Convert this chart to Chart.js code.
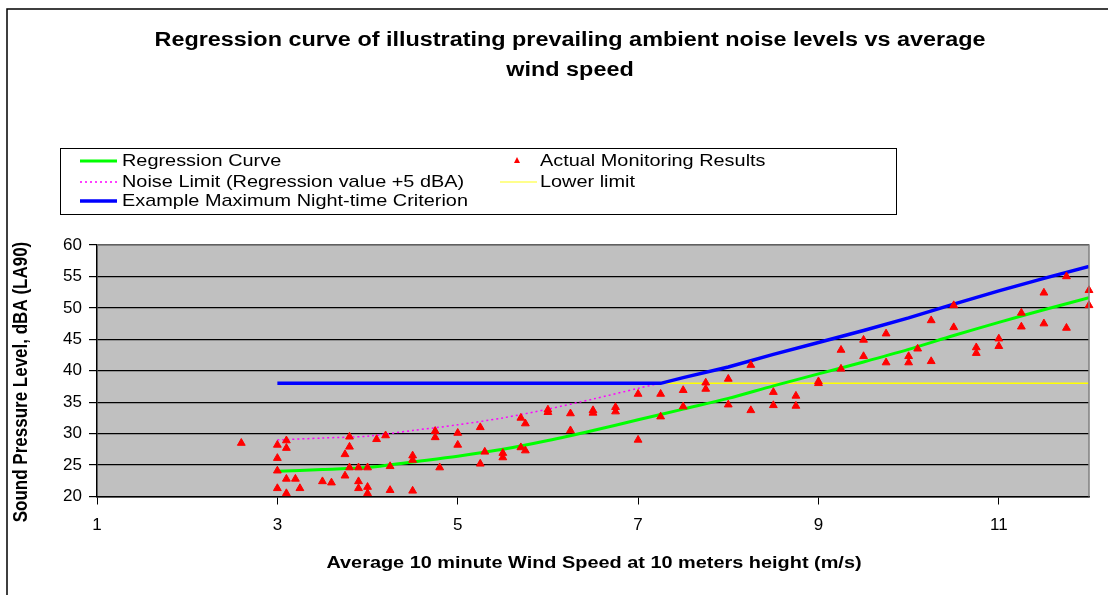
<!DOCTYPE html>
<html lang="en">
<head>
  <meta charset="UTF-8" />
  <title>Regression curve - ambient noise vs wind speed</title>
  <script src="https://cdn.jsdelivr.net/npm/chart.js"></script>
  <style>
    html, body { margin: 0; padding: 0; background: #fff; }
    #wrap { width: 1108px; height: 595px; }
  </style>
</head>
<body>
  <div id="wrap"><canvas id="noiseChart" width="1108" height="595"></canvas></div>

  <script>
    // Actual monitoring results (wind speed m/s, LA90 dBA)
    const windSpeed = [2.6, 3.0, 3.1, 3.1, 3.0, 3.0, 3.1, 3.2, 3.0, 3.25, 3.1, 3.5, 3.6, 3.75, 3.75, 3.8, 3.8, 3.8, 3.9, 3.9,
      3.9, 4.0, 4.0, 4.0, 4.1, 4.2, 4.25, 4.25, 4.5, 4.5, 4.5, 4.75, 4.75, 4.8, 5.0, 5.0, 5.25, 5.25, 5.3, 5.5,
      5.5, 5.7, 5.7, 5.75, 5.75, 6.0, 6.0, 6.25, 6.25, 6.5, 6.5, 6.75, 6.75, 7.0, 7.0, 7.25, 7.25, 7.5, 7.5, 7.75,
      7.75, 8.0, 8.0, 8.25, 8.25, 8.5, 8.5, 8.75, 8.75, 9.0, 9.0, 9.25, 9.25, 9.5, 9.5, 9.75, 9.75, 10.0, 10.0, 10.1,
      10.25, 10.25, 10.5, 10.5, 10.75, 10.75, 11.0, 11.0, 11.25, 11.25, 11.5, 11.5, 11.75, 11.75, 12.0, 12.0];
    const soundLevel = [28.5, 28.2, 28.9, 27.7, 26.1, 24.1, 22.8, 22.8, 21.3, 21.3, 20.5, 22.4, 22.2, 23.3, 26.7, 29.5, 27.9, 24.6, 24.6, 22.4,
      21.3, 24.6, 21.5, 20.5, 29.1, 29.7, 24.8, 21.0, 26.5, 25.8, 20.9, 30.4, 29.4, 24.6, 30.1, 28.2, 31.0, 25.2, 27.1, 26.9,
      26.2, 32.5, 27.8, 31.6, 27.3, 33.8, 33.4, 33.2, 30.5, 33.7, 33.3, 34.2, 33.5, 36.3, 29.0, 36.3, 32.7, 36.9, 34.3, 38.1,
      37.1, 38.7, 34.6, 40.9, 33.7, 36.6, 34.5, 36.0, 34.4, 38.3, 38.0, 43.3, 40.3, 44.9, 42.3, 45.9, 41.3, 42.3, 41.3, 43.5,
      48.0, 41.5, 50.4, 46.9, 43.7, 42.8, 45.1, 43.9, 49.2, 47.0, 52.4, 47.5, 55.0, 46.8, 52.8, 50.4];

    // Regression curve and noise limit
    const curveSpeed = [3, 3.5, 4, 4.5, 5, 5.5, 6, 6.5, 7, 7.5, 8, 8.5, 9, 9.5, 10, 10.5, 11, 11.5, 12];
    const regressionLevel = [24.0, 24.3, 24.6, 25.5, 26.4, 27.5, 28.9, 30.5, 32.2, 33.9, 35.6, 37.6, 39.5, 41.4, 43.4, 45.6, 47.7, 49.7, 51.6];
    const noiseLimitLevel = [29.0, 29.3, 29.6, 30.5, 31.4, 32.5, 33.9, 35.5, 37.2, 38.9, 40.6, 42.6, 44.5, 46.4, 48.4, 50.6, 52.7, 54.7, 56.6];

    // Example maximum night-time criterion
    const criterionSpeed = [3, 7.25, 7.5, 8, 8.5, 9, 9.5, 10, 10.5, 11, 11.5, 12];
    const criterionLevel = [38, 38, 38.9, 40.6, 42.6, 44.5, 46.4, 48.4, 50.6, 52.7, 54.7, 56.6];

    // Lower limit
    const lowerLimitSpeed = [7.25, 12];
    const lowerLimitLevel = [38, 38];

    const xTicks = [1, 3, 5, 7, 9, 11];
    const yTicks = [20, 25, 30, 35, 40, 45, 50, 55, 60];

    const FONT = "'Liberation Sans', Arial, sans-serif";
    const STRETCH = 1.17; // the original text is a bit wide

    function pts(xs, ys) {
      return xs.map((x, i) => ({ x: x, y: ys[i] }));
    }

    function wideText(ctx, text, x, y) {
      ctx.save();
      ctx.translate(x, y);
      ctx.scale(STRETCH, 1);
      ctx.fillText(text, 0, 0);
      ctx.restore();
    }

    // background, borders, titles, legend
    const decorations = {
      id: 'decorations',
      beforeDraw(chart) {
        const { ctx, chartArea: a } = chart;
        ctx.save();
        ctx.fillStyle = '#fff';
        ctx.fillRect(0, 0, chart.width, chart.height);
        ctx.fillStyle = '#c0c0c0';
        ctx.fillRect(a.left, a.top, a.right - a.left, a.bottom - a.top);
        ctx.restore();
      },
      afterDatasetsDraw(chart) {
        const { ctx, chartArea: a } = chart;
        ctx.save();
        ctx.strokeStyle = '#808080';
        ctx.lineWidth = 1.5;
        ctx.beginPath();
        ctx.moveTo(a.left, a.top);
        ctx.lineTo(a.right, a.top);
        ctx.lineTo(a.right, a.bottom);
        ctx.stroke();
        ctx.restore();
      },
      afterDraw(chart) {
        const ctx = chart.ctx;
        ctx.save();

        // outer frame
        ctx.strokeStyle = '#000';
        ctx.lineWidth = 1.5;
        ctx.beginPath();
        ctx.moveTo(7, chart.height + 2);
        ctx.lineTo(7, 9);
        ctx.lineTo(chart.width + 2, 9);
        ctx.stroke();

        // title
        ctx.fillStyle = '#000';
        ctx.textAlign = 'center';
        ctx.textBaseline = 'middle';
        ctx.font = 'bold 20px ' + FONT;
        wideText(ctx, 'Regression curve of illustrating prevailing ambient noise levels vs average', 570, 40);
        wideText(ctx, 'wind speed', 570, 70);

        // x axis title
        ctx.font = 'bold 17px ' + FONT;
        wideText(ctx, 'Average 10 minute Wind Speed at 10 meters height (m/s)', 594, 563);

        // y axis title
        ctx.save();
        ctx.translate(22, 382);
        ctx.rotate(-Math.PI / 2);
        ctx.scale(1, STRETCH);
        ctx.fillText('Sound Pressure Level, dBA (LA90)', 0, 0);
        ctx.restore();

        // legend box
        ctx.strokeStyle = '#000';
        ctx.lineWidth = 1;
        ctx.strokeRect(60.5, 148.5, 836, 66);

        ctx.font = '17px ' + FONT;
        ctx.textAlign = 'left';
        const rows = [161, 182, 201];

        function sample(x1, x2, y, color, width, dash) {
          ctx.save();
          ctx.strokeStyle = color;
          ctx.lineWidth = width;
          ctx.setLineDash(dash || []);
          ctx.beginPath();
          ctx.moveTo(x1, y);
          ctx.lineTo(x2, y);
          ctx.stroke();
          ctx.restore();
        }

        sample(80, 117, rows[0], '#00ff00', 3);
        wideText(ctx, 'Regression Curve', 122, rows[0]);
        sample(80, 117, rows[1], '#ff00ff', 1.5, [2, 3]);
        wideText(ctx, 'Noise Limit (Regression value +5 dBA)', 122, rows[1]);
        sample(80, 117, rows[2], '#0000ff', 3.5);
        wideText(ctx, 'Example Maximum Night-time Criterion', 122, rows[2]);

        // triangle marker
        ctx.fillStyle = '#ff0000';
        ctx.beginPath();
        ctx.moveTo(517, rows[0] - 4);
        ctx.lineTo(520, rows[0] + 2);
        ctx.lineTo(514, rows[0] + 2);
        ctx.closePath();
        ctx.fill();
        ctx.fillStyle = '#000';
        wideText(ctx, 'Actual Monitoring Results', 540, rows[0]);
        sample(500, 537, rows[1], '#ffff66', 1.5);
        wideText(ctx, 'Lower limit', 540, rows[1]);

        ctx.restore();
      }
    };

    new Chart(document.getElementById('noiseChart'), {
      type: 'scatter',
      data: {
        datasets: [
          {
            label: 'Actual Monitoring Results',
            data: pts(windSpeed, soundLevel),
            pointStyle: 'triangle',
            pointRadius: 4.5,
            backgroundColor: '#ff0000',
            borderColor: '#ff0000',
            borderWidth: 1,
            clip: false,
            order: 0
          },
          {
            label: 'Example Maximum Night-time Criterion',
            data: pts(criterionSpeed, criterionLevel),
            showLine: true,
            borderColor: '#0000ff',
            borderWidth: 3.5,
            pointRadius: 0,
            order: 1
          },
          {
            label: 'Regression Curve',
            data: pts(curveSpeed, regressionLevel),
            showLine: true,
            borderColor: '#00ff00',
            borderWidth: 3,
            pointRadius: 0,
            tension: 0.3,
            order: 2
          },
          {
            label: 'Noise Limit (Regression value +5 dBA)',
            data: pts(curveSpeed, noiseLimitLevel),
            showLine: true,
            borderColor: '#ff00ff',
            borderWidth: 1.5,
            borderDash: [2, 3],
            pointRadius: 0,
            tension: 0.3,
            order: 3
          },
          {
            label: 'Lower limit',
            data: pts(lowerLimitSpeed, lowerLimitLevel),
            showLine: true,
            borderColor: '#ffff00',
            borderWidth: 1.5,
            pointRadius: 0,
            order: 4
          }
        ]
      },
      options: {
        responsive: false,
        animation: false,
        layout: { padding: { top: 245, right: 19, left: 0, bottom: 0 } },
        plugins: {
          legend: { display: false },
          title: { display: false },
          tooltip: { enabled: false }
        },
        scales: {
          x: {
            type: 'linear',
            min: 1,
            max: 12,
            afterBuildTicks: s => { s.ticks = xTicks.map(v => ({ value: v })); },
            afterFit: s => { s.height = 98.5; },
            grid: { drawOnChartArea: false, drawTicks: true, tickLength: 8, color: '#000' },
            border: { display: true, color: '#000', width: 1.5 },
            ticks: { color: '#000', padding: 11, font: { family: FONT, size: 17 } }
          },
          y: {
            min: 20,
            max: 60,
            afterBuildTicks: s => { s.ticks = yTicks.map(v => ({ value: v })); },
            afterFit: s => { s.width = 97; },
            grid: { color: '#000', lineWidth: 1.2, tickLength: 8 },
            border: { display: true, color: '#000', width: 1.5 },
            ticks: { color: '#000', padding: 7, font: { family: FONT, size: 17 } }
          }
        }
      },
      plugins: [decorations]
    });
  </script>
</body>
</html>
